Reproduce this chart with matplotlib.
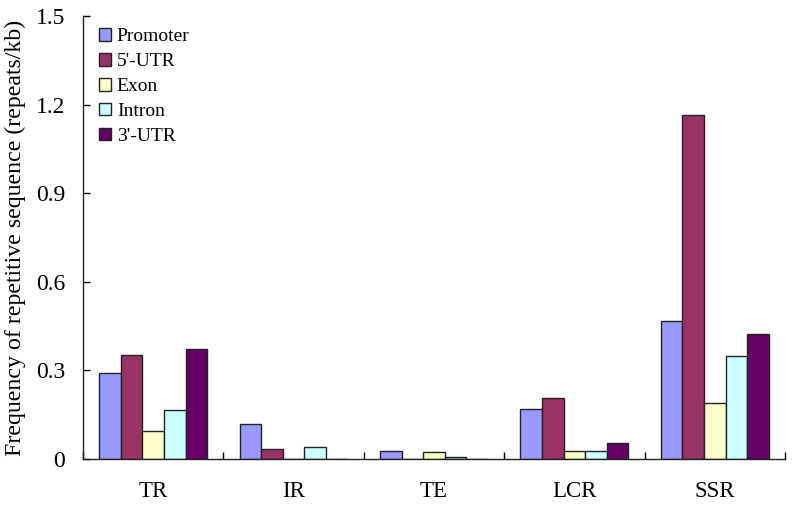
import matplotlib
matplotlib.use("Agg")
import matplotlib.pyplot as plt
import numpy as np

categories = ["TR", "IR", "TE", "LCR", "SSR"]
series_names = ["Promoter", "5'-UTR", "Exon", "Intron", "3'-UTR"]
promoter = [0.290, 0.117, 0.026, 0.168, 0.468]
utr5 = [0.351, 0.033, 0.0, 0.207, 1.165]
exon = [0.094, 0.0, 0.023, 0.026, 0.189]
intron = [0.165, 0.040, 0.008, 0.026, 0.349]
utr3 = [0.372, 0.0, 0.0, 0.053, 0.422]
colors = ["#9999FF", "#993366", "#FFFFCC", "#CCFFFF", "#660066"]
y_ticks = [0, 0.3, 0.6, 0.9, 1.2, 1.5]
y_tick_labels = ["0", "0.3", "0.6", "0.9", "1.2", "1.5"]

plt.rcParams['font.family'] = ['Liberation Serif', 'DejaVu Serif']

fig = plt.figure(figsize=(7.93, 5.07), dpi=100)
ax = fig.add_axes([83/793, 48/507, (785-83)/793, (459-16)/507])

series = [promoter, utr5, exon, intron, utr3]
n = len(series)
x = np.arange(len(categories))
group_w = 0.77
bw = group_w / n
for i, (vals, name, c) in enumerate(zip(series, series_names, colors)):
    offs = -group_w/2 + bw*(i+0.5)
    ax.bar(x + offs, vals, width=bw, color=c, edgecolor="#222222", linewidth=1.0, label=name)

ax.set_xlim(-0.5, len(categories)-0.5)
ax.set_ylim(0, 1.5)
ax.set_yticks(y_ticks)
ax.set_yticklabels(y_tick_labels, fontsize=17)
ax.set_xticks(x)
ax.set_xticklabels(categories, fontsize=16.5)
ax.tick_params(axis='x', length=0, pad=16)
ax.tick_params(axis='y', direction='in', length=5, width=1, pad=13)
# category boundary ticks
ax.set_xticks(np.arange(len(categories)+1) - 0.5, minor=True)
ax.tick_params(axis='x', which='minor', direction='in', length=5, width=1)
for s in ['top', 'right']:
    ax.spines[s].set_visible(False)
for s in ['left', 'bottom']:
    ax.spines[s].set_linewidth(1.0)
    ax.spines[s].set_color('#222222')

ax.set_ylabel("Frequency of repetitive sequence (repeats/kb)", fontsize=17.2, labelpad=7)

leg = ax.legend(loc='upper left', bbox_to_anchor=(0.006, 0.999), frameon=False, fontsize=14,
                handlelength=0.62, handleheight=0.62, handletextpad=0.3, labelspacing=0.4,
                borderaxespad=0.2)

fig.savefig("out.png", dpi=100)
